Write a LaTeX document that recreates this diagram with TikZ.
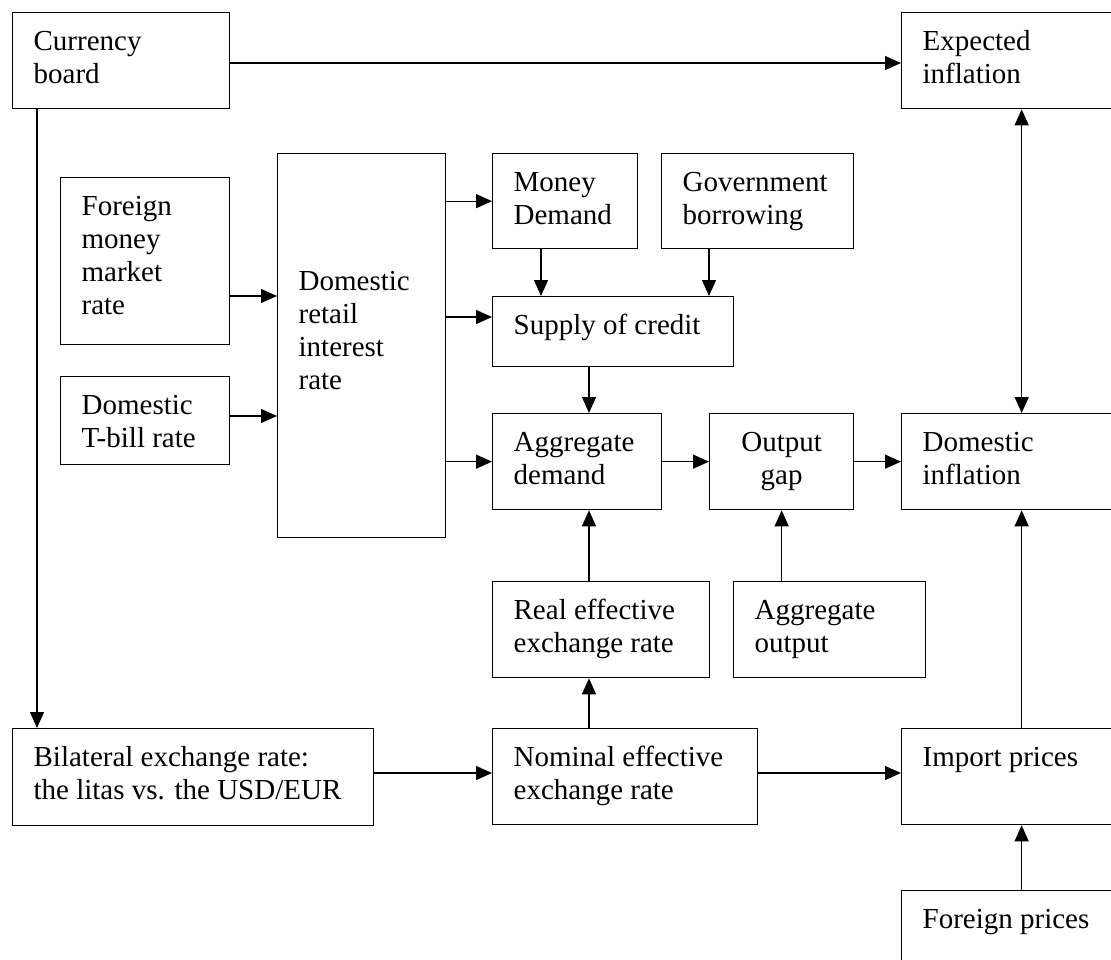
\documentclass[tikz,border=0pt]{standalone}
\usepackage{fontspec}
\setmainfont{Liberation Serif}
\usetikzlibrary{arrows.meta}
\newcommand{\cellbox}[4][38pt]{\parbox[t][#3][t]{#2}{\raggedright\leftskip=21pt\rule{0pt}{#1}\ignorespaces#4}}

\begin{document}
\begin{tikzpicture}[x=1pt, y=-1pt, font=\fontsize{29}{33}\selectfont,
    box/.style={draw, line width=1.3pt, inner sep=0pt, anchor=north west},
    arr/.style={-{Triangle[length=16pt,width=14pt]}, line width=1.3pt},
    biarr/.style={{Triangle[length=16pt,width=14pt]}-{Triangle[length=16pt,width=14pt]}, line width=1.3pt}]
  \useasboundingbox (0,0) rectangle (1111,959);
  \clip (0,0) rectangle (1111,959);
  \node[box] (CB) at (12,12) {\cellbox{217pt}{96pt}{Currency\\board}};
  \node[box] (EI) at (901,12) {\cellbox{240pt}{96pt}{Expected\\inflation}};
  \node[box] (FMR) at (60,177) {\cellbox{169pt}{167pt}{Foreign\\money\\market\\rate}};
  \node[box] (TB) at (60,376) {\cellbox{169pt}{88pt}{Domestic\\T-bill rate}};
  \node[box] (DRR) at (277,153) {\cellbox[137pt]{168pt}{384pt}{Domestic\\retail\\interest\\rate}};
  \node[box] (MD) at (492,153) {\cellbox{145pt}{95pt}{Money\\Demand}};
  \node[box] (GB) at (661,153) {\cellbox{192pt}{95pt}{Government\\borrowing}};
  \node[box] (SC) at (492,296) {\cellbox{241pt}{70pt}{Supply of credit}};
  \node[box] (AD) at (492,413) {\cellbox{169pt}{96pt}{Aggregate\\demand}};
  \node[box] (OG) at (709,413) {\cellbox{144pt}{96pt}{\centering Output\\gap}};
  \node[box] (DI) at (901,413) {\cellbox{240pt}{96pt}{Domestic\\inflation}};
  \node[box] (REER) at (492,581) {\cellbox{217pt}{96pt}{Real effective\\exchange rate}};
  \node[box] (AO) at (733,581) {\cellbox{192pt}{96pt}{Aggregate\\output}};
  \node[box] (BER) at (12,728) {\cellbox{361pt}{97pt}{Bilateral exchange rate:\\the litas vs. the USD/EUR}};
  \node[box] (NEER) at (492,728) {\cellbox{265pt}{96pt}{Nominal effective\\exchange rate}};
  \node[box] (IP) at (901,728) {\cellbox{240pt}{96pt}{Import prices}};
  \node[box] (FP) at (901,890) {\cellbox{240pt}{96pt}{Foreign prices}};

  \draw[arr] (CB.east |- 0,63) -- (EI.west |- 0,63);
  \draw[arr] (CB.south -| 37,0) -- (BER.north -| 37,0);
  \draw[arr] (FMR.east |- 0,296) -- (DRR.west |- 0,296);
  \draw[arr] (TB.east |- 0,416) -- (DRR.west |- 0,416);
  \draw[arr] (DRR.east |- MD.west) -- (MD.west);
  \draw[arr] (DRR.east |- 0,317) -- (SC.west |- 0,317);
  \draw[arr] (DRR.east |- AD.west) -- (AD.west);
  \draw[arr] (MD.south -| 541,0) -- (SC.north -| 541,0);
  \draw[arr] (GB.south -| 709,0) -- (SC.north -| 709,0);
  \draw[arr] (SC.south -| 589,0) -- (AD.north -| 589,0);
  \draw[arr] (AD.east) -- (OG.west);
  \draw[arr] (OG.east) -- (DI.west);
  \draw[biarr] (EI.south) -- (DI.north);
  \draw[arr] (REER.north -| 589,0) -- (AD.south -| 589,0);
  \draw[arr] (AO.north -| OG.south) -- (OG.south);
  \draw[arr] (NEER.north -| 589,0) -- (REER.south -| 589,0);
  \draw[arr] (BER.east |- 0,773) -- (NEER.west |- 0,773);
  \draw[arr] (NEER.east |- 0,773) -- (IP.west |- 0,773);
  \draw[arr] (IP.north) -- (DI.south);
  \draw[arr] (FP.north) -- (IP.south);
\end{tikzpicture}
\end{document}
